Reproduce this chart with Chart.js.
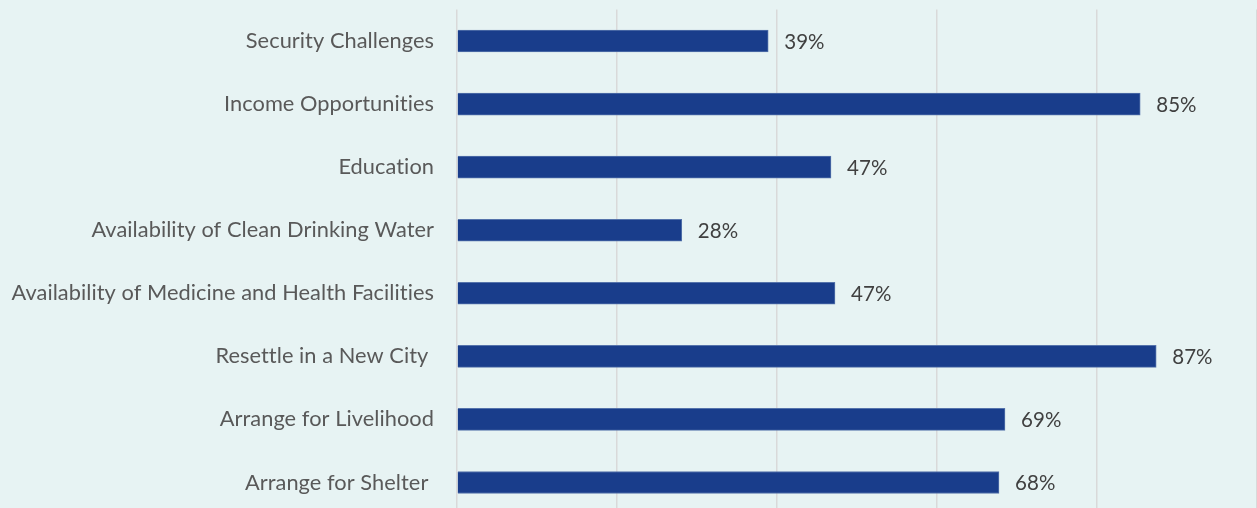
<!DOCTYPE html>
<html>
<head>
<meta charset="utf-8">
<script src="https://cdn.jsdelivr.net/npm/chart.js@4/dist/chart.umd.min.js"></script>
<style>
  html, body { margin: 0; padding: 0; background: #e7f3f3; overflow: hidden; }
  #wrap { position: relative; width: 1257px; height: 514px; }
</style>
</head>
<body>
<div id="wrap"><canvas id="c"></canvas></div>
<script>
const categories = [
  "Security Challenges",
  "Income Opportunities",
  "Education",
  "Availability of Clean Drinking Water",
  "Availability of Medicine and Health Facilities",
  "Resettle in a New City ",
  "Arrange for Livelihood",
  "Arrange for Shelter "
];
const values = [38.9, 85.4, 46.75, 28.1, 47.25, 87.4, 68.5, 67.75];
const valueLabels = ["39%", "85%", "47%", "28%", "47%", "87%", "69%", "68%"];
const xTicks = [0, 20, 40, 60, 80, 100];

const FONT = "Lato, 'Open Sans', sans-serif";

const noLigaturesPlugin = {
  id: 'noLigatures',
  beforeDraw(chart) {
    const ctx = chart.ctx;
    if ('letterSpacing' in ctx) ctx.letterSpacing = '0.05px';
    if ('textRendering' in ctx) ctx.textRendering = 'optimizeSpeed';
  }
};

const valueLabelPlugin = {
  id: 'valueLabels',
  afterDatasetsDraw(chart) {
    const ctx = chart.ctx;
    const meta = chart.getDatasetMeta(0);
    ctx.save();
    ctx.font = "20.5px " + FONT;
    ctx.fillStyle = "#404040";
    ctx.textAlign = "left";
    ctx.textBaseline = "middle";
    meta.data.forEach((bar, i) => {
      ctx.fillText(valueLabels[i], bar.x + 16, bar.y + 1);
    });
    ctx.restore();
  }
};

new Chart(document.getElementById('c'), {
  type: 'bar',
  data: {
    labels: categories,
    datasets: [{
      data: values,
      backgroundColor: '#193d8b',
      borderColor: '#5573ab',
      borderWidth: 1,
      barThickness: 22
    }]
  },
  options: {
    indexAxis: 'y',
    responsive: true,
    maintainAspectRatio: false,
    animation: false,
    layout: { padding: { top: 9.5, right: 0, bottom: 0, left: 0 } },
    plugins: { legend: { display: false }, tooltip: { enabled: false } },
    scales: {
      x: {
        min: 0, max: 100,
        afterBuildTicks(scale) { scale.ticks = xTicks.map(v => ({ value: v })); },
        ticks: { display: false },
        grid: { color: '#d9d9d9', lineWidth: 1.5, drawTicks: false },
        border: { display: false }
      },
      y: {
        afterFit(scale) {
          scale.width = 457;
          scale.paddingTop = 0;
          scale.paddingBottom = 0;
        },
        ticks: {
          color: '#595959',
          font: { family: FONT, size: 21.8 },
          padding: 23,
          autoSkip: false
        },
        grid: { display: false, drawTicks: false },
        border: { display: false }
      }
    }
  },
  plugins: [noLigaturesPlugin, valueLabelPlugin]
});
</script>
</body>
</html>
